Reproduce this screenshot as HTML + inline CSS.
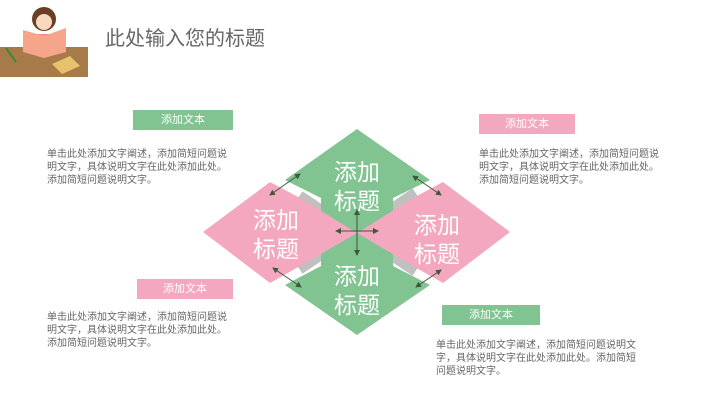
<!DOCTYPE html>
<html><head><meta charset="utf-8"><style>
body{margin:0;width:721px;height:405px;background:#fff;position:relative;overflow:hidden;font-family:"Liberation Sans","Noto Sans CJK SC",sans-serif}
.t{position:absolute;font-size:10px;line-height:13px;color:#666}
.b{position:absolute;color:#fff;font-size:11px;text-align:center;line-height:20px;height:20px}
.g{background:#81c391}.p{background:#f4a8c0}
</style></head><body>
<svg width="721" height="405" style="position:absolute;left:0;top:0">
<rect x="0" y="47" width="88" height="30" fill="#a77a4a"/>
<circle cx="44" cy="19" r="12" fill="#6b3f22"/>
<circle cx="44" cy="22" r="8" fill="#f8d9c0"/>
<rect x="30" y="34" width="30" height="12" fill="#f08e7a"/>
<polygon points="23,30 44,36 66,28 66,52 44,58 23,52" fill="#f4a58a"/>
<polygon points="52,64 70,56 80,66 62,74" fill="#e6c26a"/>
<line x1="6" y1="48" x2="16" y2="62" stroke="#3a8a3a" stroke-width="2"/>
<line x1="300" y1="195" x2="415" y2="272" stroke="#c0c0c0" stroke-width="9"/>
<line x1="415" y1="192" x2="300" y2="270" stroke="#c0c0c0" stroke-width="9"/>
<polygon points="357,129 430,180 393,198 393,215 357,233 321,215 321,198 285,180" fill="#81c391"/>
<polygon points="357,335 430,285 393,266 393,250 357,233 321,250 321,266 285,285" fill="#81c391"/>
<polygon points="203,232 270,182 300,198 357,233 300,266 270,283" fill="#f4a8c0"/>
<polygon points="510,232 443,182 413,198 357,233 413,266 443,283" fill="#f4a8c0"/>
<g fill="#fff" font-family="Liberation Sans,Noto Sans CJK SC,sans-serif" font-size="23" text-anchor="middle">
<text x="357" y="180">添加</text><text x="357" y="209">标题</text>
<text x="357" y="284">添加</text><text x="357" y="313">标题</text>
<text x="276" y="228">添加</text><text x="276" y="257">标题</text>
<text x="437" y="233">添加</text><text x="437" y="262">标题</text>
</g>
<defs><marker id="a" markerWidth="6" markerHeight="6" refX="5" refY="3" orient="auto-start-reverse"><path d="M0,0L6,3L0,6z" fill="#3d5a3a"/></marker></defs>
<g stroke="#3d5a3a" stroke-width="1" marker-start="url(#a)" marker-end="url(#a)">
<line x1="270" y1="195" x2="300" y2="174"/>
<line x1="413" y1="176" x2="441" y2="195"/>
<line x1="273" y1="268" x2="301" y2="287"/>
<line x1="416" y1="287" x2="441" y2="270"/>
<line x1="357" y1="210" x2="357" y2="255"/>
<line x1="336" y1="231" x2="378" y2="231"/>
</g>
</svg>
<div style="position:absolute;left:105px;top:22px;font-size:20px;color:#666">此处输入您的标题</div>
<div class="b g" style="left:133px;top:110px;width:100px">添加文本</div>
<div class="b p" style="left:479px;top:114px;width:96px">添加文本</div>
<div class="b p" style="left:137px;top:279px;width:96px">添加文本</div>
<div class="b g" style="left:442px;top:305px;width:98px">添加文本</div>
<div class="t" style="left:47px;top:148px;width:182px">单击此处添加文字阐述，添加简短问题说明文字，具体说明文字在此处添加此处。添加简短问题说明文字。</div>
<div class="t" style="left:479px;top:148px;width:182px">单击此处添加文字阐述，添加简短问题说明文字，具体说明文字在此处添加此处。添加简短问题说明文字。</div>
<div class="t" style="left:47px;top:311px;width:182px">单击此处添加文字阐述，添加简短问题说明文字，具体说明文字在此处添加此处。添加简短问题说明文字。</div>
<div class="t" style="left:436px;top:339px;width:202px">单击此处添加文字阐述，添加简短问题说明文字，具体说明文字在此处添加此处。添加简短问题说明文字。</div>
</body></html>
